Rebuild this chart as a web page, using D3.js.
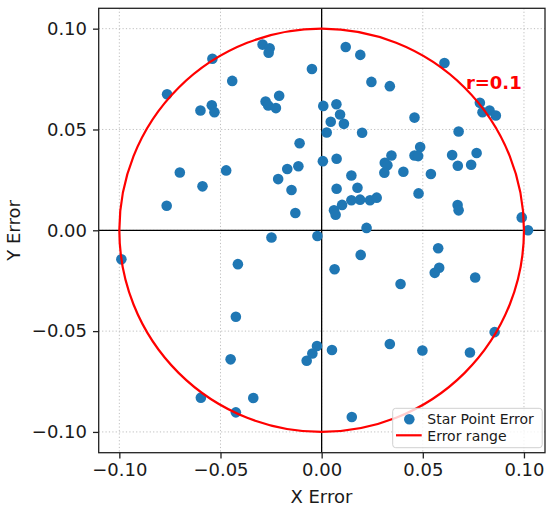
<!DOCTYPE html>
<html>
<head>
<meta charset="utf-8">
<script src="https://cdn.jsdelivr.net/npm/d3@7"></script>
<style>
  html, body { margin: 0; padding: 0; background: #fff; }
  svg { display: block; font-family: "DejaVu Sans", sans-serif; }
</style>
</head>
<body>
<svg id="chart" width="550" height="509"></svg>
<script>
// ---- data ----
const xErr = [
  -0.0764, -0.0540, -0.0442, -0.0292, -0.0257, -0.0262, -0.0048, -0.0599, -0.0543, -0.0530,
  -0.0277, -0.0264, -0.0226, -0.0210, -0.0109, -0.0701, -0.0472, -0.0170, -0.0115, -0.0589,
  -0.0215, -0.0149, -0.0766, -0.0130,
  0.0008, 0.0073, 0.0091, 0.0045, 0.0110, 0.0025, 0.0200, 0.0119, 0.0191, 0.0607,
  0.0246, 0.0337, 0.0782, 0.0795, 0.0830, 0.0861, 0.0459, 0.0677, 0.0006, 0.0074,
  0.0487, 0.0459, 0.0477, 0.0345, 0.0312, 0.0325, 0.0310, 0.0404, 0.0540, 0.0645,
  0.0673, 0.0739, 0.0766, 0.0147, 0.0074, 0.0177, 0.0479, 0.0147, 0.0190, 0.0101,
  0.0239, 0.0272, 0.0061, 0.0069, 0.0672, 0.0677, 0.0989, 0.1020, 0.0222,
  -0.0990, -0.0248, -0.0021, -0.0414, -0.0424, -0.0450, -0.0074, -0.0046, -0.0023, -0.0597,
  -0.0338, -0.0424,
  0.0576, 0.0193, 0.0064, 0.0581, 0.0559, 0.0759, 0.0390, 0.0855, 0.0051, 0.0337,
  0.0498, 0.0733, 0.0149
];
const yErr = [
  0.0675, 0.0851, 0.0741, 0.0921, 0.0903, 0.0881, 0.0800, 0.0594, 0.0620, 0.0586,
  0.0639, 0.0619, 0.0606, 0.0667, 0.0432, 0.0287, 0.0297, 0.0304, 0.0318, 0.0218,
  0.0254, 0.0200, 0.0122, 0.0086,
  0.0617, 0.0625, 0.0574, 0.0538, 0.0528, 0.0485, 0.0484, 0.0909, 0.0870, 0.0830,
  0.0736, 0.0715, 0.0632, 0.0586, 0.0594, 0.0569, 0.0559, 0.0490, 0.0343, 0.0355,
  0.0413, 0.0371, 0.0368, 0.0371, 0.0335, 0.0322, 0.0286, 0.0290, 0.0279, 0.0373,
  0.0320, 0.0325, 0.0383, 0.0272, 0.0206, 0.0211, 0.0183, 0.0149, 0.0152, 0.0126,
  0.0149, 0.0162, 0.0099, 0.0077, 0.0125, 0.0099, 0.0064, 0.0000, 0.0012,
  -0.0144, -0.0036, -0.0028, -0.0168, -0.0429, -0.0640, -0.0647, -0.0611, -0.0574, -0.0830,
  -0.0832, -0.0903,
  -0.0089, -0.0122, -0.0193, -0.0186, -0.0211, -0.0234, -0.0266, -0.0505, -0.0594, -0.0564,
  -0.0596, -0.0606, -0.0926
];
const errorRadius = 0.1;
const xTicks = [-0.10, -0.05, 0.00, 0.05, 0.10];
const yTicks = [-0.10, -0.05, 0.00, 0.05, 0.10];
const xTickLabels = ["\u22120.10", "\u22120.05", "0.00", "0.05", "0.10"];
const yTickLabels = ["\u22120.10", "\u22120.05", "0.00", "0.05", "0.10"];
const legendLabels = ["Star Point Error", "Error range"];
const radiusLabel = "r=0.1";
const radiusLabelPos = [0.0713, 0.0702];

// ---- layout ----
const L = 98.7, R = 545, T = 8.3, B = 452.7;
const blue = "#1f77b4", red = "#ff0000";

const x = d3.scaleLinear().domain([-0.1102, 0.1104]).range([L, R]);
const y = d3.scaleLinear().domain([-0.1103, 0.1101]).range([B, T]);

const svg = d3.select("#chart");

// grid
const grid = svg.append("g");
grid.selectAll("line.gx").data(xTicks).join("line")
  .attr("x1", d => x(d)).attr("x2", d => x(d)).attr("y1", T).attr("y2", B)
  .attr("stroke", "#b8b8b8").attr("stroke-width", 0.9).attr("stroke-dasharray", "1.2,2.2");
grid.selectAll("line.gy").data(yTicks).join("line")
  .attr("y1", d => y(d)).attr("y2", d => y(d)).attr("x1", L).attr("x2", R)
  .attr("stroke", "#b8b8b8").attr("stroke-width", 0.9).attr("stroke-dasharray", "1.2,2.2");

// zero axes
svg.append("line").attr("x1", L).attr("x2", R).attr("y1", y(0)).attr("y2", y(0))
  .attr("stroke", "#000").attr("stroke-width", 1.3);
svg.append("line").attr("x1", x(0)).attr("x2", x(0)).attr("y1", T).attr("y2", B)
  .attr("stroke", "#000").attr("stroke-width", 1.3);

// points
const pts = xErr.map((v, i) => [v, yErr[i]]);
svg.append("g").selectAll("circle").data(pts).join("circle")
  .attr("cx", d => x(d[0])).attr("cy", d => y(d[1])).attr("r", 5.3)
  .attr("fill", blue);

// error circle
svg.append("ellipse")
  .attr("cx", x(0)).attr("cy", y(0))
  .attr("rx", x(errorRadius) - x(0)).attr("ry", y(0) - y(errorRadius))
  .attr("fill", "none").attr("stroke", red).attr("stroke-width", 2.2);

// radius label
svg.append("text").attr("x", x(radiusLabelPos[0])).attr("y", y(radiusLabelPos[1]))
  .attr("fill", red).attr("font-weight", "bold").attr("font-size", 18)
  .text(radiusLabel);

// frame
svg.append("rect").attr("x", L).attr("y", T).attr("width", R - L).attr("height", B - T)
  .attr("fill", "none").attr("stroke", "#222").attr("stroke-width", 1.3);

// axes
const xAxis = d3.axisBottom(x).tickValues(xTicks).tickFormat((d, i) => xTickLabels[i])
  .tickSize(5.7).tickPadding(4);
const gx = svg.append("g").attr("transform", `translate(0,${B})`).call(xAxis);
gx.select(".domain").remove();
gx.selectAll(".tick line").attr("stroke", "#222").attr("stroke-width", 1.3);
gx.selectAll(".tick text").attr("font-size", 18).attr("fill", "#1a1a1a")
  .attr("font-family", "DejaVu Sans").attr("dy", "0.74em");

const yAxis = d3.axisLeft(y).tickValues(yTicks).tickFormat((d, i) => yTickLabels[i])
  .tickSize(5.7).tickPadding(6);
const gy = svg.append("g").attr("transform", `translate(${L},0)`).call(yAxis);
gy.select(".domain").remove();
gy.selectAll(".tick line").attr("stroke", "#222").attr("stroke-width", 1.3);
gy.selectAll(".tick text").attr("font-size", 18).attr("fill", "#1a1a1a")
  .attr("font-family", "DejaVu Sans");

// axis labels
svg.append("text").attr("x", (L + R) / 2 - 0.5).attr("y", 503).attr("text-anchor", "middle")
  .attr("font-size", 18).attr("fill", "#1a1a1a").text("X Error");
svg.append("text").attr("transform", `translate(19.5,${(T + B) / 2}) rotate(-90)`)
  .attr("text-anchor", "middle").attr("font-size", 18).attr("fill", "#1a1a1a").text("Y Error");

// legend
const lg = svg.append("g");
lg.append("rect").attr("x", 392.7).attr("y", 408.3).attr("width", 149.5).attr("height", 39.4)
  .attr("rx", 3).attr("fill", "#fff").attr("fill-opacity", 0.8)
  .attr("stroke", "#d0d0d0").attr("stroke-width", 1);
lg.append("circle").attr("cx", 409.3).attr("cy", 419.3).attr("r", 5.3).attr("fill", blue);
lg.append("line").attr("x1", 396).attr("x2", 421.7).attr("y1", 435.3).attr("y2", 435.3)
  .attr("stroke", red).attr("stroke-width", 2.2);
lg.selectAll("text").data(legendLabels).join("text")
  .attr("x", 427.3).attr("y", (d, i) => 424.3 + i * 16.3)
  .attr("font-size", 14).attr("fill", "#1a1a1a").text(d => d);
</script>
</body>
</html>
